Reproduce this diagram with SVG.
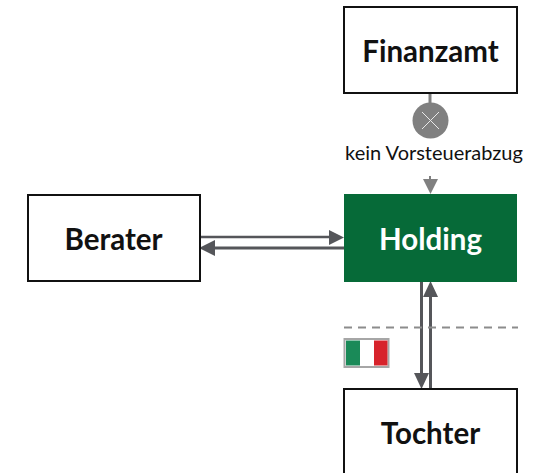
<svg xmlns="http://www.w3.org/2000/svg" width="533" height="473" viewBox="0 0 533 473">
<style>
.box{fill:#fff;stroke:#111;stroke-width:2}
.t{font-family:Lato,"Liberation Sans",sans-serif;font-weight:700;font-size:29.500px;text-anchor:middle;fill:#111}
.c{stroke:#55565a;stroke-width:3;fill:none}
.h{fill:#55565a}
</style>
<rect width="533" height="473" fill="#fff"/>
<g id="connectors">
<path d="M430 93V105" stroke="#808080" stroke-width="3" fill="none"/>
<path d="M430 176V182" stroke="#808080" stroke-width="2" fill="none"/>
<path d="M423 179H438L430.500 194Z" fill="#808080"/>
<path class="c" d="M199 237H330" style="stroke-width:2.500"/>
<path class="h" d="M329 230L344 237.500L329 245Z"/>
<path class="c" d="M214 248H344"/>
<path class="h" d="M199 248L215 240V256Z"/>
<path class="c" d="M421.500 282V375"/>
<path class="h" d="M414 373H429L421.500 389Z"/>
<path class="c" d="M430.500 296V389"/>
<path class="h" d="M423 297H438L430.500 281Z"/>
<path d="M344 327.500H518" stroke="#8c8c8c" stroke-width="2" stroke-dasharray="8 6" fill="none"/>
</g>
<g id="finanzamt"><rect class="box" x="344" y="7" width="173" height="86"/><text class="t" x="430.500" y="62">Finanzamt</text></g>
<g id="block"><circle cx="430.500" cy="120.500" r="18" fill="#808080"/><path d="M422 112L439 129M439 112L422 129" stroke="#e8e8e8" stroke-width="1" fill="none"/></g>
<g id="label"><text x="434" y="160" font-family="Lato,Liberation Sans,sans-serif" font-size="20" text-anchor="middle" fill="#111">kein Vorsteuerabzug</text></g>
<g id="berater"><rect class="box" x="28" y="195" width="172" height="86"/><text class="t" x="113.500" y="250">Berater</text></g>
<g id="holding"><rect x="344" y="194" width="173" height="88" fill="#066a38"/><text class="t" x="430.500" y="250" style="fill:#fff">Holding</text></g>
<g id="tochter"><rect class="box" x="344" y="389" width="173" height="86"/><text class="t" x="430.500" y="444">Tochter</text></g>
<g id="flag"><rect x="344.500" y="339" width="44" height="28" fill="#fff" stroke="#a6a6a6" stroke-width="2"/><rect x="346" y="340.500" width="14" height="25" fill="#1a8a58"/><rect x="374" y="340.500" width="13.500" height="25" fill="#d7232b"/></g>
</svg>
